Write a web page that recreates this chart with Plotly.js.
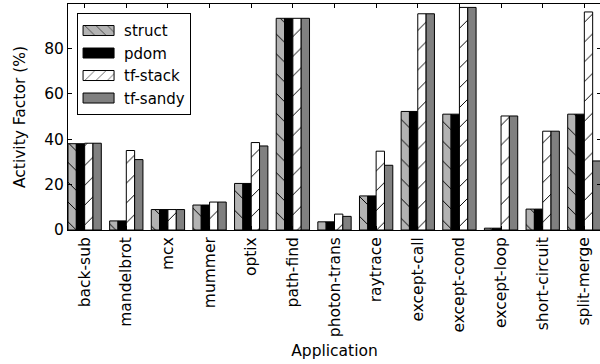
<!DOCTYPE html>
<html>
<head>
<meta charset="utf-8">
<script src="https://cdn.plot.ly/plotly-3.0.1.min.js"></script>
<style>
  html, body { margin: 0; padding: 0; background: #fff; overflow: hidden; width: 600px; height: 364px; }
  #chart { width: 610px; height: 364px; }
</style>
</head>
<body>
<div id="chart"></div>
<script>
const apps = ['back-sub', 'mandelbrot', 'mcx', 'mummer', 'optix', 'path-find', 'photon-trans',
              'raytrace', 'except-call', 'except-cond', 'except-loop', 'short-circuit', 'split-merge'];
const structVals  = [38.0, 4.0, 9.0, 11.0, 20.5, 93.2, 3.6, 15.0, 52.2, 51.0, 0.8, 9.2, 51.0];
const pdomVals    = [38.0, 4.0, 9.0, 11.0, 20.5, 93.2, 3.6, 15.0, 52.2, 51.0, 0.8, 9.2, 51.0];
const tfStackVals = [38.2, 35.0, 9.0, 12.3, 38.5, 93.2, 7.0, 34.7, 95.2, 98.0, 50.2, 43.5, 96.0];
const tfSandyVals = [38.2, 31.0, 9.0, 12.3, 37.0, 93.2, 6.0, 28.5, 95.2, 98.0, 50.2, 43.5, 30.4];
const yTicks = [0, 20, 40, 60, 80];

const FONT = 'DejaVu Sans, sans-serif';
const outline = { color: '#000', width: 1 };

const traces = [
  { type: 'bar', name: 'struct', x: apps, y: structVals,
    marker: { color: '#b3b3b3', line: outline,
      pattern: { shape: '\\', fgcolor: '#000', bgcolor: '#b3b3b3', size: 14, solidity: 0.07 } } },
  { type: 'bar', name: 'pdom', x: apps, y: pdomVals,
    marker: { color: '#000000', line: outline } },
  { type: 'bar', name: 'tf-stack', x: apps, y: tfStackVals,
    marker: { color: '#ffffff', line: outline,
      pattern: { shape: '/', fgcolor: '#000', bgcolor: '#ffffff', size: 14, solidity: 0.07 } } },
  { type: 'bar', name: 'tf-sandy', x: apps, y: tfSandyVals,
    marker: { color: '#808080', line: outline } }
];

const layout = {
  width: 610, height: 364,
  margin: { l: 68, r: 9, t: 3.5, b: 134 },
  paper_bgcolor: '#fff', plot_bgcolor: '#fff',
  font: { family: FONT, size: 15.5, color: '#000' },
  barmode: 'group', bargap: 0.2, bargroupgap: 0,
  showlegend: true,
  legend: {
    x: 0.017, y: 0.959, xanchor: 'left', yanchor: 'top',
    bgcolor: '#fff', bordercolor: '#000', borderwidth: 1,
    font: { family: FONT, size: 15, color: '#000' },
    itemwidth: 36, traceorder: 'normal'
  },
  xaxis: {
    type: 'category', range: [-0.4, 12.4],
    showline: true, linecolor: '#000', linewidth: 1, mirror: 'ticks',
    ticks: 'inside', ticklen: 4, tickcolor: '#000', tickwidth: 1,
    tickangle: -90, showgrid: false, zeroline: false,
    tickfont: { family: FONT, size: 15.5, color: '#000' },
    title: { text: 'Application', font: { family: FONT, size: 15.5, color: '#000' }, standoff: 8 },
    automargin: false
  },
  yaxis: {
    range: [0, 99.5], tickvals: yTicks, ticktext: yTicks.map(String),
    showline: true, linecolor: '#000', linewidth: 1, mirror: 'ticks',
    ticks: 'inside', ticklen: 4, tickcolor: '#000', tickwidth: 1,
    showgrid: false, zeroline: false,
    tickfont: { family: FONT, size: 15.5, color: '#000' },
    title: { text: 'Activity Factor (%)', font: { family: FONT, size: 15.5, color: '#000' }, standoff: 14 },
    automargin: false
  }
};

Plotly.newPlot('chart', traces, layout, { staticPlot: true, displayModeBar: false }).then(function (gd) {
  gd.querySelectorAll('.legend .legendpoints path').forEach(function (p) {
    p.setAttribute('d', 'M13,5H-18V-5H13Z');
  });
});
</script>
</body>
</html>
